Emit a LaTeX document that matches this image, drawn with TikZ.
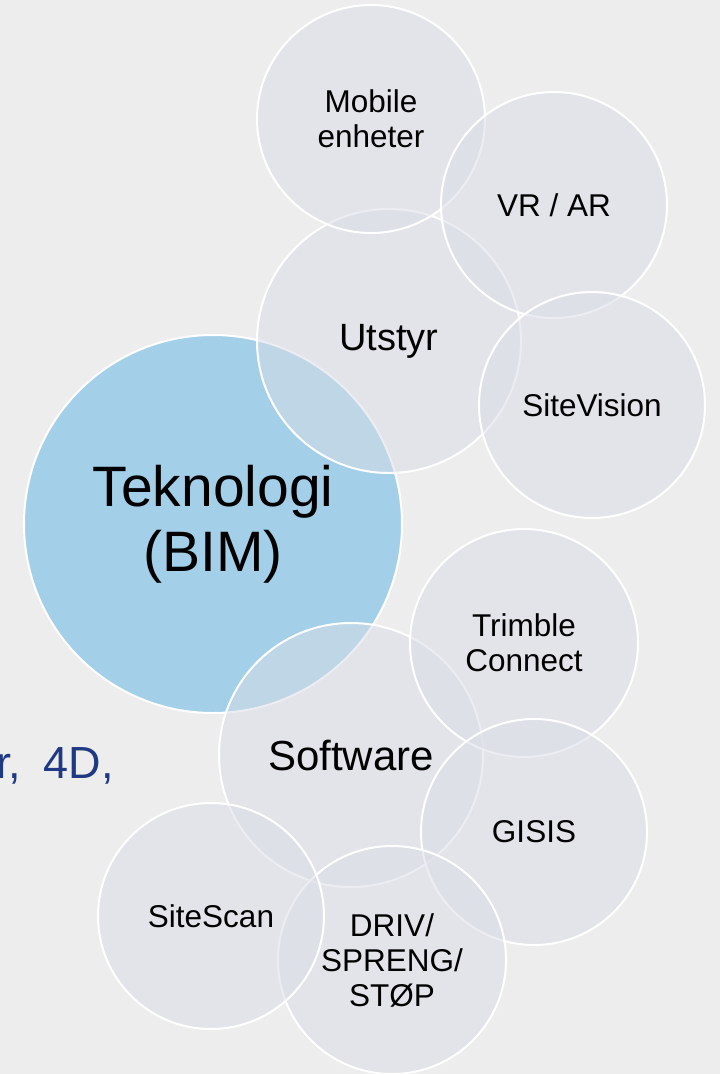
\documentclass[tikz,border=0pt]{standalone}
\usepackage{fontspec}
\setmainfont{Liberation Sans}
\definecolor{bgc}{RGB}{237,237,237}
\definecolor{bubble}{RGB}{219,221,230}
\definecolor{bluec}{RGB}{163,207,232}
\definecolor{navy}{RGB}{31,58,130}
\begin{document}
\begin{tikzpicture}[x=1pt,y=-1pt,
  bub/.style={circle, inner sep=0pt, draw=white, line width=2pt, fill=bubble, fill opacity=0.5, draw opacity=1, text opacity=1, align=center, text=black},
  small/.style={bub, font=\fontsize{31.5}{35}\selectfont},
  mid/.style={bub, font=\fontsize{38}{44}\selectfont},
  big/.style={circle, inner sep=0pt, draw=white, line width=2pt, fill=bluec, align=center, text=black, font=\fontsize{57}{65}\selectfont}]
\fill[bgc] (0,0) rectangle (720,1074);
\useasboundingbox (0,0) rectangle (720,1074);
\node[anchor=base west, text=navy, font=\fontsize{45}{50}\selectfont, inner sep=0pt] (side) at (-4,778) {r,\hspace{10pt} 4D,};
\node[big, minimum size=378pt] (tek) at (213,524) {Teknologi\\(BIM)};
\node[mid, minimum size=264pt] (utstyr) at (389,341) {Utstyr};
\node[small, minimum size=228pt] (mobile) at (371,119) {Mobile\\enheter};
\node[small, minimum size=226pt] (vr) at (554,205) {VR / AR};
\node[small, minimum size=226pt] (sitevision) at (592,405) {SiteVision};
\node[mid, minimum size=264pt, font=\fontsize{42}{48}\selectfont] (software) at (351,755) {Software};
\node[small, minimum size=228pt] (trimble) at (524,643) {Trimble\\Connect};
\node[small, minimum size=226pt] (gisis) at (534,832) {GISIS};
\node[small, minimum size=228pt] (driv) at (392,960) {DRIV/\\SPRENG/\\STØP};
\node[small, minimum size=226pt] (sitescan) at (211,916) {SiteScan};
\end{tikzpicture}
\end{document}
